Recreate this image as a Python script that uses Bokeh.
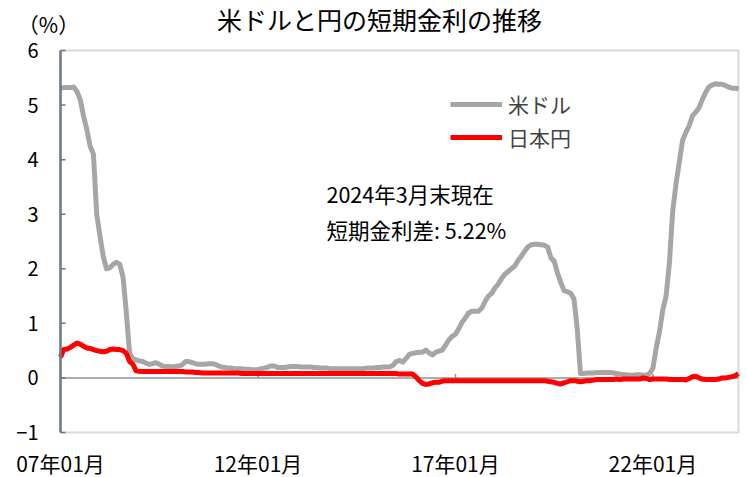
import numpy as np
import pandas as pd
from bokeh.plotting import figure
from bokeh.models import Range1d, Legend, LegendItem, Label, ColumnDataSource, BoxAnnotation
from bokeh.core.properties import value
from bokeh.embed import file_html
from bokeh.resources import INLINE

# ---- data (monthly, 2007-01 .. 2024-03, %) ----
months = [d.strftime("%Y-%m") for d in pd.date_range("2007-01-01", "2024-03-01", freq="MS")]

usd = [5.31, 5.32, 5.32, 5.32, 5.33, 5.25, 5.10, 4.80, 4.55, 4.25,
       4.10, 3.00, 2.60, 2.22, 2.00, 2.02, 2.08, 2.12, 2.08, 1.85,
       1.20, 0.45, 0.35, 0.33, 0.31, 0.30, 0.27, 0.25, 0.26, 0.28,
       0.25, 0.22, 0.21, 0.21, 0.20, 0.21, 0.22, 0.24, 0.30, 0.30,
       0.28, 0.26, 0.25, 0.25, 0.25, 0.26, 0.26, 0.25, 0.22, 0.20,
       0.19, 0.18, 0.18, 0.17, 0.17, 0.17, 0.16, 0.16, 0.15, 0.15,
       0.15, 0.17, 0.18, 0.20, 0.22, 0.22, 0.19, 0.19, 0.19, 0.20,
       0.21, 0.21, 0.21, 0.20, 0.20, 0.20, 0.20, 0.19, 0.19, 0.18,
       0.18, 0.18, 0.17, 0.17, 0.17, 0.17, 0.17, 0.17, 0.17, 0.17,
       0.17, 0.17, 0.17, 0.18, 0.18, 0.18, 0.19, 0.19, 0.20, 0.20,
       0.20, 0.23, 0.30, 0.32, 0.29, 0.36, 0.43, 0.45, 0.46, 0.47,
       0.47, 0.51, 0.46, 0.42, 0.47, 0.49, 0.51, 0.60, 0.70, 0.76,
       0.80, 0.90, 1.02, 1.10, 1.19, 1.22, 1.22, 1.22, 1.28, 1.40,
       1.50, 1.55, 1.65, 1.72, 1.82, 1.90, 1.95, 2.00, 2.05, 2.15,
       2.23, 2.32, 2.40, 2.44, 2.45, 2.45, 2.44, 2.43, 2.40, 2.20,
       2.14, 1.92, 1.75, 1.60, 1.58, 1.55, 1.45, 0.90, 0.08, 0.08,
       0.09, 0.09, 0.09, 0.10, 0.10, 0.10, 0.10, 0.10, 0.09, 0.08,
       0.07, 0.06, 0.06, 0.05, 0.05, 0.06, 0.06, 0.05, 0.05, 0.08,
       0.18, 0.55, 0.85, 1.25, 1.50, 2.10, 3.05, 3.55, 3.95, 4.35,
       4.50, 4.62, 4.80, 4.87, 4.95, 5.10, 5.23, 5.33, 5.37, 5.39,
       5.38, 5.38, 5.36, 5.33, 5.31, 5.31, 5.30]

jpy = [0.38, 0.52, 0.53, 0.56, 0.60, 0.64, 0.62, 0.58, 0.55, 0.54,
       0.52, 0.50, 0.49, 0.48, 0.49, 0.52, 0.53, 0.52, 0.52, 0.50,
       0.45, 0.30, 0.25, 0.13, 0.12, 0.12, 0.12, 0.12, 0.12, 0.12,
       0.12, 0.12, 0.12, 0.12, 0.12, 0.12, 0.12, 0.12, 0.11, 0.11,
       0.11, 0.10, 0.10, 0.09, 0.09, 0.09, 0.09, 0.09, 0.09, 0.09,
       0.09, 0.09, 0.09, 0.09, 0.09, 0.08, 0.08, 0.08, 0.08, 0.08,
       0.08, 0.08, 0.08, 0.08, 0.08, 0.08, 0.08, 0.08, 0.08, 0.08,
       0.08, 0.08, 0.08, 0.08, 0.08, 0.08, 0.08, 0.08, 0.08, 0.08,
       0.08, 0.08, 0.08, 0.08, 0.08, 0.08, 0.08, 0.08, 0.08, 0.08,
       0.08, 0.08, 0.08, 0.08, 0.08, 0.08, 0.08, 0.08, 0.08, 0.08,
       0.08, 0.08, 0.08, 0.07, 0.07, 0.07, 0.07, 0.07, 0.02, -0.05,
       -0.10, -0.12, -0.11, -0.09, -0.08, -0.08, -0.06, -0.05, -0.05, -0.05,
       -0.05, -0.05, -0.05, -0.05, -0.05, -0.05, -0.05, -0.05, -0.05, -0.05,
       -0.05, -0.05, -0.05, -0.05, -0.05, -0.05, -0.05, -0.05, -0.05, -0.05,
       -0.05, -0.05, -0.05, -0.05, -0.05, -0.05, -0.05, -0.05, -0.06, -0.07,
       -0.08, -0.10, -0.11, -0.09, -0.07, -0.05, -0.05, -0.06, -0.07, -0.06,
       -0.05, -0.05, -0.04, -0.03, -0.03, -0.03, -0.03, -0.03, -0.03, -0.02,
       -0.03, -0.02, -0.02, -0.02, -0.02, -0.02, -0.02, 0.00, -0.01, -0.03,
       -0.02, -0.02, -0.02, -0.02, -0.02, -0.03, -0.03, -0.03, -0.03, -0.03,
       -0.04, -0.01, 0.02, 0.03, 0.00, -0.02, -0.03, -0.03, -0.03, -0.03,
       -0.02, 0.00, 0.00, 0.01, 0.02, 0.04, 0.08]

tick_months = ["2007-01", "2012-01", "2017-01", "2022-01"]
tick_labels = ["07年01月", "12年01月", "17年01月", "22年01月"]
y_ticks = [-1, 0, 1, 2, 3, 4, 5, 6]
y_tick_labels = ["−1", "0", "1", "2", "3", "4", "5", "6"]

title_text = "米ドルと円の短期金利の推移"
unit_text = "（%）"
note_line1 = "2024年3月末現在"
note_line2 = "短期金利差: 5.22%"
series_names = ["米ドル", "日本円"]

# ---- layout (pixels) ----
FONT = "Noto Sans CJK JP"
W, H = 747, 477                 # canvas
L, R, T, B = 60, 738, 50, 432   # plot box inside the canvas
AXIS_GRAY = "#6d757e"
FRAME_GRAY = "#7c848d"
ZERO_GRAY = "#8c939a"

x = np.arange(len(months))
src = ColumnDataSource(dict(x=x, usd=usd, jpy=jpy))
tick_pos = [months.index(m) for m in tick_months]

ppm = (R - L) / (x[-1] - x[0])
ppu = (B - T) / (y_ticks[-1] - y_ticks[0])
x_range = Range1d(x[0] - L / ppm, x[-1] + (W - R) / ppm)
y_range = Range1d(y_ticks[0] - (H - B) / ppu, y_ticks[-1] + T / ppu)

p = figure(width=W, height=H, output_backend="svg", toolbar_location=None,
           x_range=x_range, y_range=y_range, x_axis_type=None, y_axis_type=None,
           min_border=0, min_border_left=0, min_border_right=0,
           min_border_top=0, min_border_bottom=0)
p.title.visible = False
p.outline_line_color = None
p.background_fill_color = "white"
p.border_fill_color = "white"

# plot box
p.add_layout(BoxAnnotation(left=x[0], right=x[-1], bottom=y_ticks[0], top=y_ticks[-1],
                           fill_alpha=0, line_color=FRAME_GRAY, line_width=2))

# zero line with small ticks at the labelled months
p.segment(x0=[x[0]], y0=[0], x1=[x[-1]], y1=[0], line_color=ZERO_GRAY, line_width=1.5)
p.ray(x=tick_pos, y=[0] * len(tick_pos), length=4, length_units="screen", angle=np.pi / 2,
      line_color=ZERO_GRAY, line_width=1.5)

# data
r_usd = p.line("x", "usd", source=src, line_color="#a6a6a6", line_width=5, line_join="round")
r_jpy = p.line("x", "jpy", source=src, line_color="#ff0000", line_width=5, line_join="round")

# y axis (line, inward ticks, labels)
p.segment(x0=[x[0]], y0=[y_ticks[0]], x1=[x[0]], y1=[y_ticks[-1]], line_color=AXIS_GRAY, line_width=2.5)
p.ray(x=[x[0]] * len(y_ticks), y=y_ticks, length=5, length_units="screen", angle=0,
      line_color=AXIS_GRAY, line_width=1.5)
p.text(x=[x[0]] * len(y_ticks), y=y_ticks, text=y_tick_labels, x_offset=-22,
       text_align="right", text_baseline="middle", text_color="#000000",
       text_font=value(FONT), text_font_size="20px")

# x axis labels
p.text(x=tick_pos, y=[y_ticks[0]] * len(tick_pos), text=tick_labels, y_offset=30,
       text_align="center", text_baseline="middle", text_color="#000000",
       text_font=value(FONT), text_font_size="21px")

# legend
legend = Legend(items=[LegendItem(label=series_names[0], renderers=[r_usd]),
                       LegendItem(label=series_names[1], renderers=[r_jpy])],
                location=(450, 325), padding=0, margin=0, spacing=3,
                glyph_width=52, glyph_height=22, label_standoff=6,
                label_text_font=FONT, label_text_font_size="21px",
                border_line_color=None, background_fill_alpha=0)
p.add_layout(legend)

# title and unit
p.add_layout(Label(x=379, y=H - 18, x_units="screen", y_units="screen", text=title_text,
                   text_font=FONT, text_font_size="25px", text_color="#000000",
                   text_align="center", text_baseline="middle"))
p.add_layout(Label(x=48, y=H - 23, x_units="screen", y_units="screen", text=unit_text,
                   text_font=FONT, text_font_size="21px", text_color="#000000",
                   text_align="center", text_baseline="middle"))

# annotation
p.add_layout(Label(x=326, y=H - 193, x_units="screen", y_units="screen", text=note_line1,
                   text_font=FONT, text_font_size="21.5px", text_color="#000000",
                   text_baseline="middle"))
p.add_layout(Label(x=326, y=H - 229, x_units="screen", y_units="screen", text=note_line2,
                   text_font=FONT, text_font_size="21.5px", text_color="#000000",
                   text_baseline="middle"))

open("out.html", "w").write(file_html(p, INLINE))
